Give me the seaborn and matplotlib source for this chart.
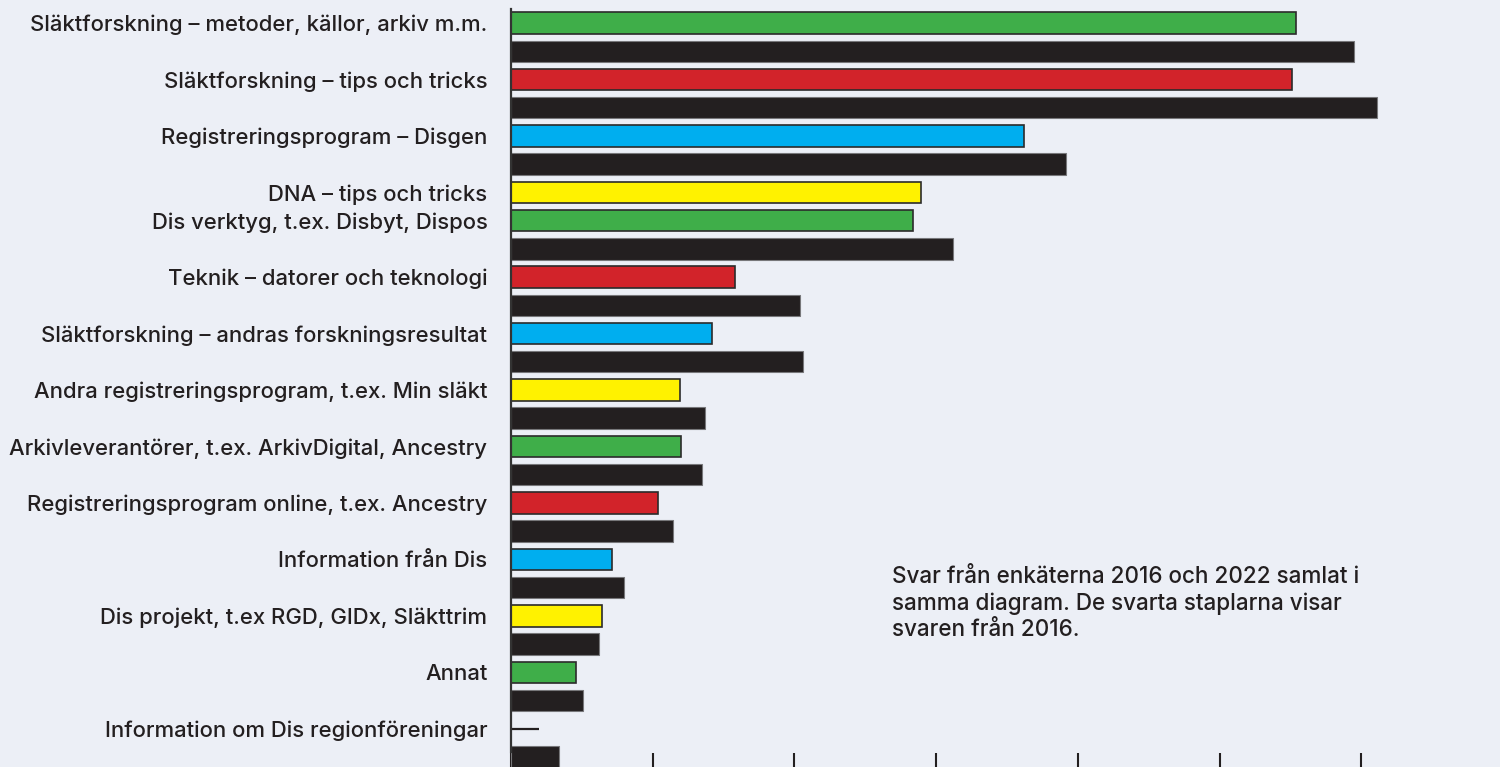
import pandas as pd
import seaborn as sns
import matplotlib.pyplot as plt

# Categories (top to bottom), answers 2022 and 2016 (None = not asked in 2016)
categories = [
    "Släktforskning – metoder, källor, arkiv m.m.",
    "Släktforskning – tips och tricks",
    "Registreringsprogram – Disgen",
    "DNA – tips och tricks",
    "Dis verktyg, t.ex. Disbyt, Dispos",
    "Teknik – datorer och teknologi",
    "Släktforskning – andras forskningsresultat",
    "Andra registreringsprogram, t.ex. Min släkt",
    "Arkivleverantörer, t.ex. ArkivDigital, Ancestry",
    "Registreringsprogram online, t.ex. Ancestry",
    "Information från Dis",
    "Dis projekt, t.ex RGD, GIDx, Släkttrim",
    "Annat",
    "Information om Dis regionföreningar",
]
values_2022 = [55.4, 55.1, 36.2, 28.9, 28.4, 15.8, 14.2, 11.9, 12.0, 10.4, 7.1, 6.4, 4.6, 2.0]
values_2016 = [59.5, 61.1, 39.2, None, 31.2, 20.4, 20.6, 13.7, 13.5, 11.4, 8.0, 6.2, 5.1, 3.4]
bar_colors = ["#3fae49", "#d2232a", "#00aeef", "#fff200"]
black = "#231f20"
line_only = "Information om Dis regionföreningar"   # 2022 drawn as a thin line
note = "Svar från enkäterna 2016 och 2022 samlat i\nsamma diagram. De svarta staplarna visar\nsvaren från 2016."
x_ticks = [0, 10, 20, 30, 40, 50, 60]

# Build one row per bar
rows = []
for i, cat in enumerate(categories):
    rows.append({"row": f"r{len(rows):02d}", "label": cat, "value": values_2022[i],
                 "color": bar_colors[i % 4], "year": 2022})
    if values_2016[i] is not None:
        rows.append({"row": f"r{len(rows):02d}", "label": "", "value": values_2016[i],
                     "color": black, "year": 2016})
df = pd.DataFrame(rows)
order = list(df["row"])
bars = df[~((df["label"] == line_only) & (df["year"] == 2022))]

sns.set_theme(style="white")
plt.rcParams["font.family"] = ["Inter", "DejaVu Sans"]
bg = "#eceff6"

fig = plt.figure(figsize=(15, 7.67), dpi=100, facecolor=bg)
ax = fig.add_axes([511 / 1500, 0, 989 / 1500, 1])
ax.set_facecolor(bg)

sns.barplot(data=bars, x="value", y="row", hue="row", order=order, hue_order=list(bars["row"]),
            palette=dict(zip(bars["row"], bars["color"])), legend=False, orient="h",
            width=0.76, saturation=1, ax=ax)

for p in ax.patches:
    fc = p.get_facecolor()
    if fc[0] < 0.2 and fc[1] < 0.2 and fc[2] < 0.2:
        p.set_edgecolor("#77777a")
        p.set_linewidth(0.8)
    else:
        p.set_edgecolor("#2b2b2b")
        p.set_linewidth(1.2)

# thin line for the 2022 value of the last category
lo = df[(df["label"] == line_only) & (df["year"] == 2022)]
ax.hlines(order.index(lo["row"].iloc[0]), 0, lo["value"].iloc[0], color=black, lw=1.6)

px_per_row = 28.23
ax.set_ylim((767 - 23) / px_per_row, -23 / px_per_row)
ax.set_xlim(0, 989 / 14.17)

lab = df[df["label"] != ""]
ax.set_yticks([order.index(r) for r in lab["row"]])
ax.set_yticklabels(lab["label"], fontsize=15.9, color=black, fontweight="medium")
ax.tick_params(axis="y", length=0, pad=17)
ax.set_xticks(x_ticks)
ax.set_xticklabels([])
ax.tick_params(axis="x", direction="in", length=10, width=1.5, color=black, bottom=True)
ax.set_xlabel("")
ax.set_ylabel("")

for s in ["top", "right", "bottom"]:
    ax.spines[s].set_visible(False)
ax.spines["left"].set_color("#333333")
ax.spines["left"].set_linewidth(1.6)
ax.spines["left"].set_bounds((752 - 23) / px_per_row, (9 - 23) / px_per_row)

fig.text(892 / 1500, 1 - 566 / 767, note, fontsize=16.2, color=black, va="top", ha="left",
         linespacing=1.25, fontweight="medium")

fig.savefig("out.png", dpi=100, facecolor=bg)
